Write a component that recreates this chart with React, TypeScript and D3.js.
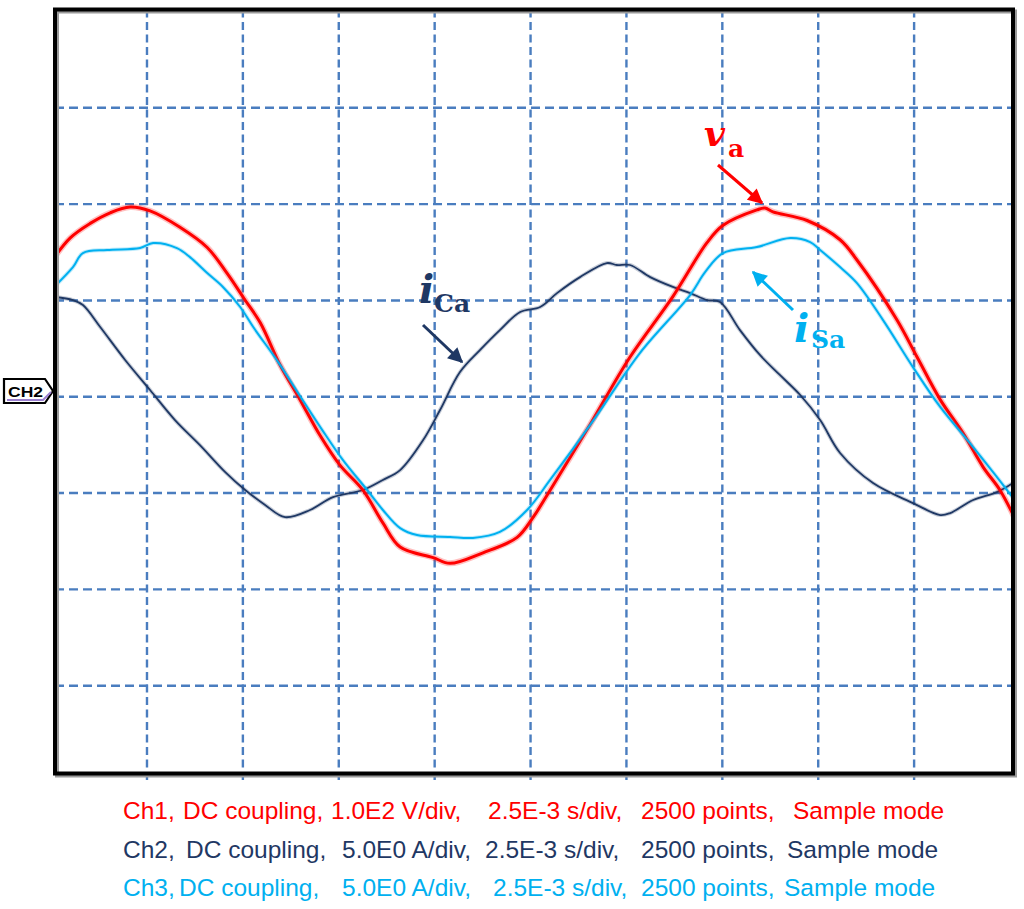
import React from "react";
import * as d3 from "d3";

const W = 1024;
const H = 909;

// time in ms (2.5 ms/div), Ch1 in V (100 V/div), Ch2/Ch3 in A (5 A/div)
const timeTicks = [2.5, 5, 7.5, 10, 12.5, 15, 17.5, 20, 22.5];
const voltTicks = [-300, -200, -100, 0, 100, 200, 300];

const vaData: [number, number][] = [
  [0, 140], [0.5, 165], [1.02, 180], [1.54, 191], [2.06, 197], [2.58, 193], [3.36, 176],
  [4.07, 155], [4.59, 128], [5.03, 102], [5.45, 77], [5.97, 33], [6.49, -3], [7.01, -40],
  [7.53, -71], [8.13, -97], [8.65, -131], [9.1, -156], [9.96, -167], [10.4, -173],
  [11.26, -162], [12.15, -146], [12.57, -125], [13.01, -97], [14.05, -29], [15.09, 41],
  [16.21, 104], [17.1, 160], [17.52, 178], [18.4, 194], [18.61, 196], [18.82, 192],
  [19.71, 183], [20.57, 163], [21.01, 142], [22.05, 80], [22.58, 41], [23.18, -3],
  [23.78, -38], [24.3, -73], [24.74, -97], [25.1, -124],
];

const iSaData: [number, number][] = [
  [0, 5.55], [0.57, 6.73], [0.83, 7.46], [1.46, 7.62], [2.32, 7.72], [2.66, 7.98], [3.28, 7.72],
  [3.62, 7.25], [4.07, 6.42], [4.48, 5.7], [4.93, 4.66], [5.27, 3.62], [5.92, 1.8], [6.49, 0.04],
  [7.07, -1.73], [7.61, -3.29], [8.24, -4.84], [8.65, -5.88], [9.1, -6.82], [9.54, -7.18],
  [10.4, -7.28], [11.0, -7.33], [11.7, -7.02], [12.41, -5.88], [13.01, -4.32], [14.18, -1.11],
  [15.35, 2.27], [16.66, 5.28], [17.05, 6.47], [17.52, 7.46], [18.4, 7.77], [19.27, 8.24],
  [19.79, 8.03], [20.05, 7.62], [20.57, 6.73], [21.01, 5.9], [21.69, 3.98], [22.47, 1.54],
  [23.18, -0.53], [24.04, -2.61], [24.66, -4.17], [25.1, -5.3],
];

const iCaData: [number, number][] = [
  [0, 5.2], [0.57, 5.02], [0.83, 4.76], [1.28, 3.62], [1.93, 1.91], [2.58, 0.35], [3.23, -1.21],
  [3.88, -2.51], [4.54, -3.91], [5.06, -4.84], [5.58, -5.62], [6.1, -6.25], [6.75, -5.88],
  [7.35, -5.21], [8.13, -4.84], [8.65, -4.32], [9.1, -3.81], [9.7, -2.25], [10.14, -0.69],
  [10.66, 1.28], [11.18, 2.42], [11.7, 3.46], [12.23, 4.4], [12.75, 4.66], [13.19, 5.38],
  [13.79, 6.21], [14.49, 6.94], [14.75, 6.84], [15.09, 6.84], [15.62, 6.21], [16.21, 5.7],
  [16.66, 5.38], [17.1, 5.02], [17.44, 4.92], [17.96, 3.46], [18.48, 2.17], [19.0, 1.13],
  [19.53, 0.09], [20.05, -1.21], [20.57, -2.92], [21.43, -4.48], [22.47, -5.52], [23.18, -6.14],
  [23.44, -6.04], [24.04, -5.36], [24.66, -4.95], [25.1, -4.45],
];

const captionSegments: { text: string; x: number }[][] = [
  [
    { text: "Ch1,", x: 123 }, { text: "DC coupling,", x: 183 }, { text: "1.0E2 V/div,", x: 331 },
    { text: "2.5E-3 s/div,", x: 488 }, { text: "2500 points,", x: 641 }, { text: "Sample mode", x: 793 },
  ],
  [
    { text: "Ch2,", x: 123 }, { text: "DC coupling,", x: 186 }, { text: "5.0E0 A/div,", x: 342 },
    { text: "2.5E-3 s/div,", x: 485 }, { text: "2500 points,", x: 641 }, { text: "Sample mode", x: 787 },
  ],
  [
    { text: "Ch3,", x: 123 }, { text: "DC coupling,", x: 179 }, { text: "5.0E0 A/div,", x: 342 },
    { text: "2.5E-3 s/div,", x: 493 }, { text: "2500 points,", x: 641 }, { text: "Sample mode", x: 784 },
  ],
];
const captionColors = ["#ff0000", "#1f3864", "#00b0f0"];
const captionBaselines = [819, 858, 896];

const RED = "#ff0000";
const NAVY = "#1f3864";
const CYAN = "#00b0f0";
const GRID = "#4a7dbf";

export default function App() {
  const frame = { x0: 55, y0: 9.5, x1: 1013, y1: 773.5 };
  const x = d3.scaleLinear().domain([0, 25]).range([51.1, 1010]);
  const yV = d3.scaleLinear().domain([-400, 400]).range([782, 11.5]);
  const yA = d3.scaleLinear().domain([-20, 20]).range([782, 11.5]);

  const lineV = d3
    .line<[number, number]>()
    .x((d) => x(d[0]))
    .y((d) => yV(d[1]))
    .curve(d3.curveCatmullRom.alpha(0.5));
  const lineA = d3
    .line<[number, number]>()
    .x((d) => x(d[0]))
    .y((d) => yA(d[1]))
    .curve(d3.curveCatmullRom.alpha(0.5));

  const arrow = (id: string, color: string) => (
    <marker id={id} viewBox="0 0 10 10" refX="9" refY="5" markerWidth="5.5" markerHeight="5" orient="auto-start-reverse" markerUnits="strokeWidth">
      <path d="M0,0 L10,5 L0,10 z" fill={color} />
    </marker>
  );

  return (
    <svg width={W} height={H} style={{ position: "absolute", left: 0, top: 0, background: "#fff" }}>
      <defs>
        <clipPath id="plotClip">
          <rect x={frame.x0} y={frame.y0} width={frame.x1 - frame.x0} height={frame.y1 - frame.y0} />
        </clipPath>
        {arrow("arRed", RED)}
        {arrow("arNavy", NAVY)}
        {arrow("arCyan", CYAN)}
      </defs>
      <rect x={0} y={0} width={W} height={H} fill="#fff" />

      {/* grid */}
      {timeTicks.map((t) => (
        <line key={"v" + t} x1={x(t)} x2={x(t)} y1={frame.y0} y2={780} stroke={GRID} strokeWidth={2.4} strokeDasharray="8 4.5" />
      ))}
      {voltTicks.map((v) => (
        <line key={"h" + v} x1={frame.x0} x2={frame.x1} y1={yV(v)} y2={yV(v)} stroke={GRID} strokeWidth={2.4} strokeDasharray="9 5" />
      ))}

      {/* traces */}
      <g clipPath="url(#plotClip)" fill="none" strokeLinejoin="round">
        <path d={lineA(iCaData) || ""} stroke={NAVY} strokeWidth={4} strokeOpacity={0.25} />
        <path d={lineA(iCaData) || ""} stroke={NAVY} strokeWidth={1.8} />
        <path d={lineV(vaData) || ""} stroke={RED} strokeWidth={6} strokeOpacity={0.25} />
        <path d={lineV(vaData) || ""} stroke={RED} strokeWidth={3} />
        <path d={lineA(iSaData) || ""} stroke={CYAN} strokeWidth={4} strokeOpacity={0.25} />
        <path d={lineA(iSaData) || ""} stroke={CYAN} strokeWidth={2} />
      </g>

      {/* frame with shadow */}
      <rect x={frame.x0 + 2} y={frame.y0 + 2} width={frame.x1 - frame.x0} height={frame.y1 - frame.y0} fill="none" stroke="#9a9a9a" strokeWidth={4} />
      <rect x={frame.x0} y={frame.y0} width={frame.x1 - frame.x0} height={frame.y1 - frame.y0} fill="none" stroke="#000" strokeWidth={4} />

      {/* CH2 marker */}
      <g>
        <polygon points="4,379 45,379 53,391 45,403 4,403" fill="#fff" stroke="#000" strokeWidth={2.2} />
        <text x={8} y={397} fontFamily="Liberation Sans, Arial, sans-serif" fontWeight="bold" fontSize={14} textLength={35} lengthAdjust="spacingAndGlyphs" fill="#000">CH2</text>
        <polyline points="7,400 43,400 51,392" fill="none" stroke="#9b7fd0" strokeWidth={2} />
      </g>

      {/* annotations */}
      <g fontFamily="DejaVu Serif, serif">
        <text x={704} y={146} fontSize={36} fontStyle="italic" fontWeight="bold" fill={RED}>v</text>
        <text x={728} y={157} fontSize={25} fontWeight="bold" fill={RED}>a</text>
        <line x1={718} y1={165} x2={762} y2={203} stroke={RED} strokeWidth={3} markerEnd="url(#arRed)" />

        <text x={419} y={303} fontSize={40} fontStyle="italic" fontWeight="bold" fill={NAVY}>i</text>
        <text x={434} y={312} fontSize={25} fontWeight="bold" fill={NAVY}>Ca</text>
        <line x1={423} y1={325} x2={462} y2={362} stroke={NAVY} strokeWidth={3} markerEnd="url(#arNavy)" />

        <text x={794} y={342} fontSize={40} fontStyle="italic" fontWeight="bold" fill={CYAN}>i</text>
        <text x={811} y={348} fontSize={25} fontWeight="bold" fill={CYAN}>Sa</text>
        <line x1={793} y1={310} x2={753} y2={272} stroke={CYAN} strokeWidth={3} markerEnd="url(#arCyan)" />
      </g>

      {/* caption */}
      <g fontFamily="Liberation Sans, Arial, sans-serif" fontSize={24.5}>
        {captionSegments.map((segs, i) =>
          segs.map((s, j) => (
            <text key={i + "-" + j} x={s.x} y={captionBaselines[i]} fill={captionColors[i]}>
              {s.text}
            </text>
          ))
        )}
      </g>
    </svg>
  );
}
